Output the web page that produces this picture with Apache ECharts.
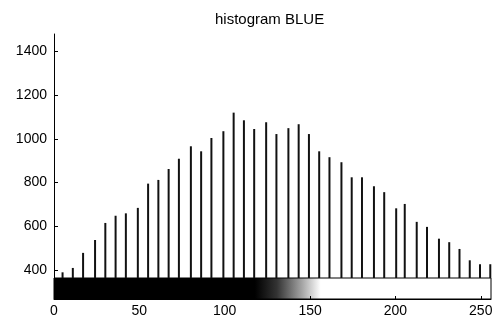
<!DOCTYPE html>
<html>
<head>
<meta charset="utf-8">
<script src="https://cdn.jsdelivr.net/npm/echarts@6/dist/echarts.min.js"></script>
<style>
  html, body { margin: 0; padding: 0; background: #fff; }
  #chart { width: 492px; height: 322px; }
</style>
</head>
<body>
<div id="chart"></div>
<script>
// gray levels where the stems stand
const levels = [5, 11, 17, 24, 30, 36, 42, 49, 55, 61, 67, 73, 80, 86, 92, 99, 105, 111, 117, 124,
    130, 137, 143, 149, 155, 161, 168, 174, 180, 187, 193, 200, 205, 212, 218, 225, 231, 237, 243, 249, 255];
// pixel counts
const counts = [389, 409, 478, 537, 615, 648, 659, 684, 795, 812, 862, 909, 966, 943, 1004, 1035, 1120, 1085, 1045, 1076,
    1022, 1049, 1067, 1022, 943, 916, 893, 824, 824, 783, 756, 682, 702, 620, 597, 543, 527, 496, 444, 426, 426];
const yTicks = [400, 600, 800, 1000, 1200, 1400];

const stems = levels.map((v, i) => [v, counts[i]]);

const chart = echarts.init(document.getElementById('chart'));
const font = 'Liberation Sans, Arial, sans-serif';

const option = {
    animation: false,
    title: {
        text: 'histogram BLUE',
        left: 210,
        top: 7,
        textStyle: { fontFamily: font, fontSize: 15, fontWeight: 'normal', color: '#000' }
    },
    grid: [
        { left: 54, right: 0, top: 34, bottom: 44, outerBoundsMode: 'none', containLabel: false },
        {
            // colorbar strip
            left: 54, right: 1, top: 278, height: 21,
            outerBoundsMode: 'none', containLabel: false,
            show: true,
            borderColor: '#000',
            borderWidth: 1,
            backgroundColor: new echarts.graphic.LinearGradient(0, 0, 1, 0, [
                { offset: 0, color: '#000' },
                { offset: 0.46, color: '#000' },
                { offset: 0.51, color: '#333' },
                { offset: 0.57, color: '#aaa' },
                { offset: 0.61, color: '#fff' },
                { offset: 1, color: '#fff' }
            ])
        }
    ],
    xAxis: [
        { gridIndex: 0, type: 'value', min: 0, max: 256, show: false },
        {
            gridIndex: 1, type: 'value', min: 0, max: 256, interval: 50,
            axisLine: { show: true, lineStyle: { color: '#000', width: 1 } },
            axisTick: { show: true, inside: true, length: 3, lineStyle: { color: '#000' } },
            axisLabel: {
                color: '#000', fontFamily: font, fontSize: 14, margin: 5,
                hideOverlap: false, alignMinLabel: 'center', alignMaxLabel: 'center'
            },
            splitLine: { show: false }
        }
    ],
    yAxis: [
        {
            gridIndex: 0, type: 'value', min: 363, max: 1480,
            axisLine: { show: true, lineStyle: { color: '#000', width: 1 } },
            axisTick: { show: true, inside: true, length: 4, customValues: yTicks, lineStyle: { color: '#000' } },
            axisLabel: {
                color: '#000', fontFamily: font, fontSize: 14, margin: 7, customValues: yTicks,
                formatter: v => String(v)
            },
            splitLine: { show: false }
        },
        { gridIndex: 1, type: 'value', min: 0, max: 1, show: false }
    ],
    series: [
        {
            type: 'bar',
            xAxisIndex: 0,
            yAxisIndex: 0,
            data: stems,
            barWidth: 2,
            itemStyle: { color: '#111' }
        }
    ]
};
chart.setOption(option);
</script>
</body>
</html>
